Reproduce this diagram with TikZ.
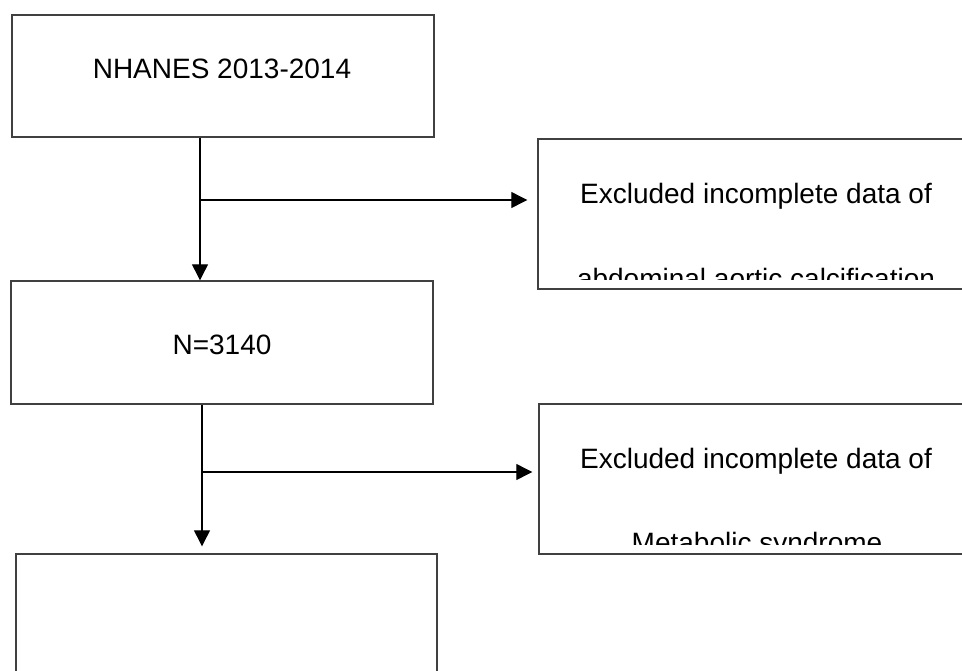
\documentclass[tikz,border=0pt]{standalone}
\usepackage{fontspec}
\setmainfont{Liberation Sans}
\usetikzlibrary{arrows.meta}
\tikzset{
    box/.style={draw=black!75, line width=1.4pt, inner sep=0pt},
    txt/.style={anchor=base, inner sep=0pt, font=\fontsize{28}{34}\selectfont},
    flow/.style={line width=1.2pt, -{Triangle[length=16pt,width=16pt]}}
}
\begin{document}
\begin{tikzpicture}[x=1pt,y=-1pt]
    \clip (0,0) rectangle (962,670);
    % left column
    \node[box, minimum width=422pt, minimum height=122pt] (nhanes) at (223,76) {};
    \node[box, minimum width=422pt, minimum height=123pt] (n3140) at (222,342.5) {};
    \node[box, minimum width=421pt, minimum height=122pt] (final) at (226.5,615) {};
    \node[txt] (nhanestxt) at (222,78) {NHANES 2013-2014};
    \node[txt] (n3140txt) at (222,354) {N=3140};
    % exclusions
    \node[box, minimum width=436pt, minimum height=150pt] (excla) at (756,214) {};
    \node[box, minimum width=436pt, minimum height=150pt] (exclb) at (757,479) {};
    \begin{scope}
        \clip (excla.north west) rectangle ([yshift=10pt]excla.south east);
        \node[txt] (exclaone) at (756,203) {Excluded incomplete data of};
        \node[txt] (exclatwo) at (756,288) {abdominal aortic calcification};
    \end{scope}
    \begin{scope}
        \clip (exclb.north west) rectangle ([yshift=10pt]exclb.south east);
        \node[txt] (exclbone) at (756,468) {Excluded incomplete data of};
        \node[txt] (exclbtwo) at (757,552) {Metabolic syndrome};
    \end{scope}
    % arrows
    \coordinate (ja) at (200,200);
    \coordinate (jb) at (202,472);
    \draw[flow] (ja |- nhanes.south) -- (ja |- n3140.north);
    \draw[flow, shorten >=10pt] (ja) -- (ja -| excla.west);
    \draw[flow, shorten >=7pt] (jb |- n3140.south) -- (jb |- final.north);
    \draw[flow, shorten >=6pt] (jb) -- (jb -| exclb.west);
\end{tikzpicture}
\end{document}
